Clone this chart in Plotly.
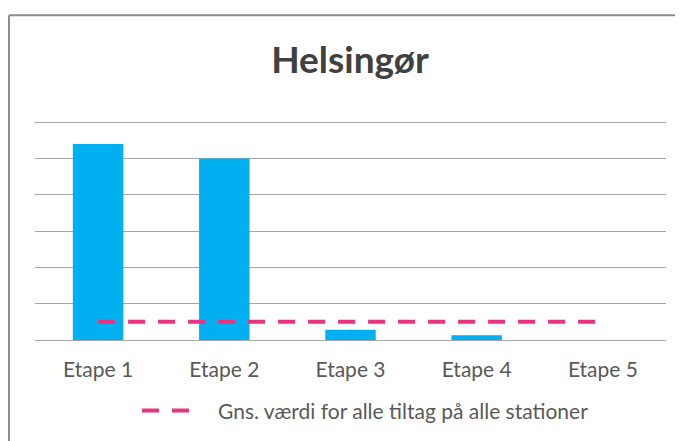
import plotly.graph_objects as go

categories = ["Etape 1", "Etape 2", "Etape 3", "Etape 4", "Etape 5"]
values = [5.4, 5.0, 0.28, 0.13, 0.0]
avg_values = [0.5, 0.5, 0.5, 0.5, 0.5]
avg_name = "Gns. værdi for alle tiltag på alle stationer"
title_text = "Helsingør"

W, H = 683, 441
O = 8  # page offset (body margin)
YMAX = 6.0
YTOP = 6.03
L, R = 35 - O, 666 - O
B = 340 - O
T_grid = 122 - O
T = B - (B - T_grid) * YTOP / YMAX

FONT = "Lato, 'Open Sans', sans-serif"

fig = go.Figure()
fig.add_trace(go.Bar(x=categories, y=values, marker=dict(color="#00B0F0", line=dict(width=0)),
                     showlegend=False, name="Værdi"))
fig.add_trace(go.Scatter(x=categories, y=avg_values, mode="lines", name="\u2002\u2002" + avg_name,
                         line=dict(color="#E8347E", width=4, dash="17px,13px")))

def px_to_paper_x(px):
    return (px - O - L) / (R - L)

def px_to_paper_y(py):
    return (B - (py - O)) / (B - T)

shapes = [
    dict(type="line", xref="paper", yref="paper", x0=px_to_paper_x(9), x1=px_to_paper_x(720),
         y0=px_to_paper_y(15), y1=px_to_paper_y(15), line=dict(color="#8C8C8C", width=2)),
    dict(type="line", xref="paper", yref="paper", x0=px_to_paper_x(9), x1=px_to_paper_x(9),
         y0=px_to_paper_y(15), y1=px_to_paper_y(480), line=dict(color="#8C8C8C", width=2)),
]

fig.update_layout(
    width=W, height=H,
    margin=dict(l=L, r=W - R, t=T, b=H - B, pad=0),
    paper_bgcolor="white", plot_bgcolor="white",
    bargap=0.6,
    title=dict(text="<b>" + title_text + "</b>", x=(350 - O) / W, xanchor="center",
               y=1 - (60 - O) / H, yanchor="middle",
               font=dict(family=FONT, size=37, color="#404040")),
    xaxis=dict(showgrid=False, showline=False, ticks="", tickfont=dict(family=FONT, size=21, color="#595959"),
               ticklabelstandoff=15),
    yaxis=dict(range=[0, YTOP], dtick=1, showticklabels=False, showgrid=True, gridcolor="#A6A6A6", gridwidth=1.3,
               zeroline=True, zerolinecolor="#A6A6A6", zerolinewidth=1.3, showline=False),
    legend=dict(orientation="h", x=px_to_paper_x(137), xanchor="left", y=px_to_paper_y(411), yanchor="middle",
                itemwidth=50,
                font=dict(family=FONT, size=21, color="#595959"), bgcolor="rgba(0,0,0,0)"),
    shapes=shapes,
)

fig.write_html("out.html")
